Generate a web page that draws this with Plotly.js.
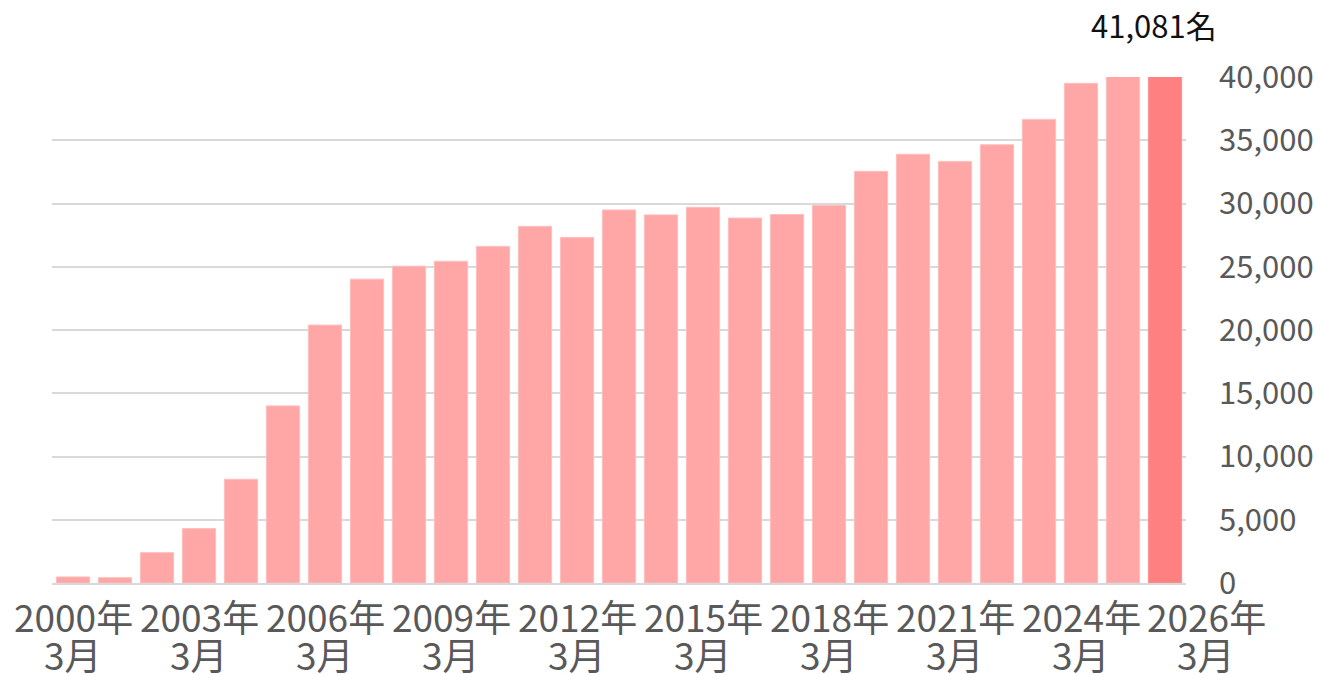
<!DOCTYPE html>
<html>
<head>
<meta charset="utf-8">
<script src="https://cdn.plot.ly/plotly-3.0.1.min.js"></script>
<style>html,body{margin:0;padding:0;background:#fff;}#chart{width:1321px;height:674px;}</style>
</head>
<body>
<div id="chart"></div>
<script>
const years = ["2000","2001","2002","2003","2004","2005","2006","2007","2008","2009","2010","2011","2012","2013","2014","2015","2016","2017","2018","2019","2020","2021","2022","2023","2024","2025","2026"];
const members = [480,420,2400,4300,8200,14000,20390,24020,25040,25430,26610,28190,27320,29490,29100,29700,28850,29130,29840,32540,33890,33330,34640,36650,39500,40400,41081];
const tickYears = ["2000","2003","2006","2009","2012","2015","2018","2021","2024","2026"];
const yTicks = [0,5000,10000,15000,20000,25000,30000,35000,40000];
const yTickLabels = ["0","5,000","10,000","15,000","20,000","25,000","30,000","35,000","40,000"];
const lastLabel = "41,081名";
const titleText = "会員数の推移";

const cats = years.map(y => y + "年3月");

const barColors = years.map((y,i)=> i===years.length-1 ? "#FF8080" : "#FFA6A6");
const lineColors = years.map((y,i)=> i===years.length-1 ? "#FF9090" : "#FFBDBD");

const font = '"Noto Sans CJK JP", "Noto Sans", sans-serif';

// x labels: two lines each, drawn as annotations on the category axis
const xLabelAnns = [];
tickYears.forEach(y => {
  const isLast = y === years[years.length-1];
  const shift = isLast ? 41 : 0;
  xLabelAnns.push({x: y + "年3月", y: 0, xref: "x", yref: "paper", yanchor: "middle", xanchor: "center",
    yshift: -33, xshift: shift, text: y + "年", showarrow: false,
    font: {size: 37, color: "#595959", family: font}});
  xLabelAnns.push({x: y + "年3月", y: 0, xref: "x", yref: "paper", yanchor: "middle", xanchor: "center",
    yshift: -71, xshift: shift, text: "3月", showarrow: false,
    font: {size: 37, color: "#595959", family: font}});
});

Plotly.newPlot("chart", [{
  type: "bar",
  x: cats,
  y: members,
  marker: {color: barColors, line: {color: lineColors, width: 1}},
  cliponaxis: true,
  hoverinfo: "none"
}], {
  width: 1321, height: 674,
  margin: {l: 52, r: 135, t: 77, b: 91, pad: 0},
  paper_bgcolor: "#fff", plot_bgcolor: "#fff",
  bargap: 0.21,
  showlegend: false,
  font: {family: font, color: "#595959"},
  xaxis: {
    type: "category",
    range: [-0.5, years.length - 0.5],
    autorange: false,
    showticklabels: false,
    automargin: false,
    showgrid: false,
    showline: true, linecolor: "#D9D9D9", linewidth: 2,
    ticks: "",
    fixedrange: true
  },
  yaxis: {
    side: "right",
    automargin: false,
    range: [0, 40000],
    autorange: false,
    tickmode: "array",
    tickvals: yTicks,
    ticktext: yTickLabels,
    tickfont: {size: 31, color: "#595959", family: font},
    showgrid: true, gridcolor: "#D9D9D9", gridwidth: 2,
    zeroline: false, showline: false,
    ticks: "",
    ticklabelstandoff: 32,
    fixedrange: true
  },
  annotations: [
    {x: cats[cats.length-1], y: 1, xref: "x", yref: "paper", yanchor: "bottom", yshift: 28, xshift: -11,
     text: lastLabel, showarrow: false, font: {size: 31, color: "#111", family: font}},
    {x: 0.0, y: 1.142, xref: "paper", yref: "paper", xanchor: "left", yanchor: "bottom", xshift: 20,
     text: titleText, showarrow: false, font: {size: 36, color: "#111", family: font}}
  ].concat(xLabelAnns)
}, {staticPlot: true});
</script>
</body>
</html>
